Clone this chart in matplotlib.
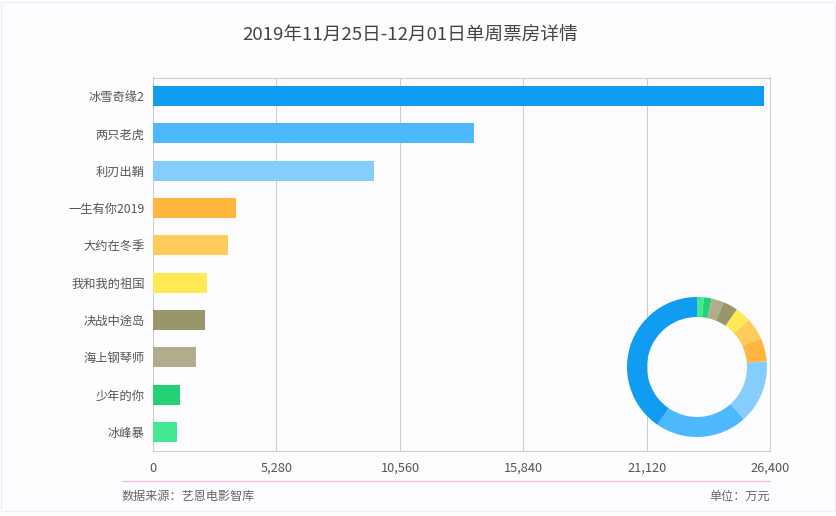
import matplotlib
matplotlib.use("Agg")
import matplotlib.pyplot as plt
from matplotlib.patches import Rectangle

plt.rcParams['font.family'] = ['Noto Sans CJK SC', 'DejaVu Sans']

W, H = 837, 516

films = ["冰雪奇缘2", "两只老虎", "利刃出鞘", "一生有你2019", "大约在冬季",
         "我和我的祖国", "决战中途岛", "海上钢琴师", "少年的你", "冰峰暴"]
boxoffice = [26120, 13720, 9450, 3550, 3210, 2310, 2220, 1840, 1150, 1030]
colors = ["#109CF1", "#4DB8FC", "#85CDFC", "#FFB53F", "#FFCB5B",
          "#FFE955", "#99966A", "#B0AC8C", "#22D275", "#44E891"]
x_ticks = [0, 5280, 10560, 15840, 21120, 26400]


def px_axes(fig, left, top, right, bottom):
    return fig.add_axes([left / W, 1 - bottom / H, (right - left) / W, (bottom - top) / H])


def main():
    fig = plt.figure(figsize=(W / 100, H / 100), dpi=100, facecolor="#FDFDFF")

    # outer frame
    fig.add_artist(Rectangle((1.5 / W, 1 - 510.5 / H), 834 / W, 509 / H, transform=fig.transFigure,
                             fill=False, edgecolor="#EEEBF8", linewidth=0.8))

    fig.text(410.5 / W, 1 - 35 / H, "2019年11月25日-12月01日单周票房详情", fontsize=13.4,
             color="#444444", ha="center", va="center")

    ax = px_axes(fig, 153, 77.5, 770.5, 450.5)
    ax.set_facecolor("none")
    ax.barh(range(len(films)), boxoffice, height=0.535, color=colors, zorder=3)
    ax.set_xlim(0, 26400)
    ax.set_ylim(len(films) - 0.5, -0.5)
    ax.set_yticks(range(len(films)))
    ax.set_yticklabels(films, fontsize=8.8, color="#555555")
    ax.set_xticks(x_ticks)
    ax.set_xticklabels([f"{t:,}" for t in x_ticks], fontsize=9.2, color="#555555")
    ax.tick_params(axis="both", length=0)
    ax.tick_params(axis="x", pad=8)
    ax.tick_params(axis="y", pad=6)
    ax.grid(axis="x", color="#CCCCCC", linewidth=0.75, zorder=1)
    for s in ax.spines.values():
        s.set_color("#CCCCCC")
        s.set_linewidth(0.75)

    # small donut, bottom right
    cx, cy, r = 697, 367, 70
    ax2 = px_axes(fig, cx - r, cy - r, cx + r, cy + r)
    ax2.pie(boxoffice[::-1], colors=colors[::-1], startangle=90, counterclock=False, radius=1,
            wedgeprops=dict(width=20 / 70, linewidth=0))
    ax2.set_xlim(-1, 1)
    ax2.set_ylim(-1, 1)

    # footer
    fig.add_artist(plt.Line2D([122 / W, 770 / W], [1 - 480.5 / H] * 2, color="#EBBDE0", linewidth=0.9))
    fig.text(122 / W, 1 - 496 / H, "数据来源：艺恩电影智库", fontsize=8.7, color="#666666",
             ha="left", va="center")
    fig.text(770 / W, 1 - 496 / H, "单位：万元", fontsize=8.7, color="#666666",
             ha="right", va="center")

    fig.savefig("out.png", dpi=100, facecolor=fig.get_facecolor())
    plt.close(fig)


main()
